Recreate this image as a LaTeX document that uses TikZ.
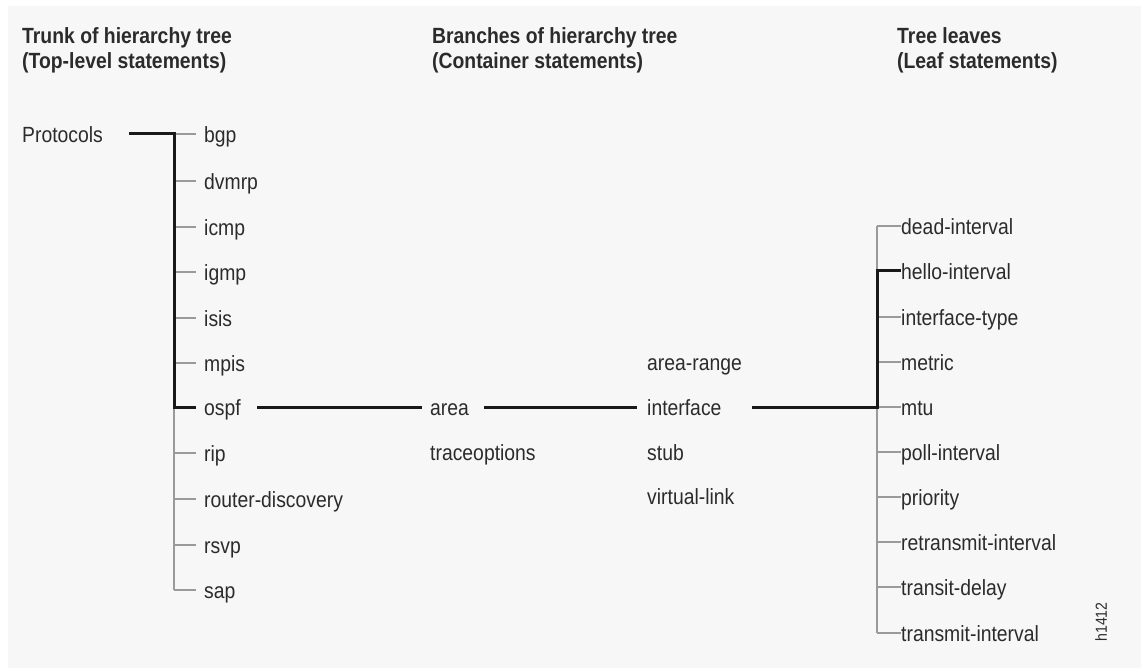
\documentclass[tikz,border=0pt]{standalone}
\usepackage{fontspec}
\setmainfont{Liberation Sans}[FakeStretch=0.88]
\definecolor{paper}{HTML}{F7F7F7}
\definecolor{ink}{HTML}{2B2B2B}
\definecolor{twiggray}{HTML}{9A9A9A}
\def\trunkx{174}
\def\leafx{877}
\begin{document}
\begin{tikzpicture}[x=1pt, y=-1pt,
    nodes = {font=\fontsize{22}{25}\selectfont, text=ink, inner sep=0pt},
    stmt/.style = {anchor=west, text height=21pt, text depth=4pt},
    header/.style = {anchor=north west, align=left,
      font=\fontsize{22}{25}\selectfont\bfseries},
    bough/.style = {draw=black!90, line width=3pt},
    twig/.style = {draw=twiggray, line width=1.5pt}]
    \useasboundingbox (0,0) rectangle (1141,668);
    \fill[paper] (8,6) rectangle (1141,668);
    % column headers
    \node[header] (trunk) at (22,27) {Trunk of hierarchy tree\\(Top-level statements)};
    \node[header] (branches) at (432,27) {Branches of hierarchy tree\\(Container statements)};
    \node[header] (leaves) at (897,27) {Tree leaves\\(Leaf statements)};
    % trunk
    \node[stmt] (protocols) at (22,134) {Protocols};
    \foreach \y/\name in {134/bgp, 181/dvmrp, 227/icmp, 272/igmp, 318/isis,
        363/mpis, 407/ospf, 453/rip, 499/router-discovery, 545/rsvp, 590/sap} {
      \coordinate (t-\name) at (\trunkx,\y);
      \node[stmt] (\name) at (204,\y) {\name};
      \draw[twig] (t-\name) -- ([xshift=-8pt]\name.west);
    }
    \draw[twig] (t-ospf) -- (t-sap);
    \draw[bough, shorten <=26pt] (protocols.east) -- (t-bgp) -- (t-ospf)
      -- ([xshift=-8pt]ospf.west);
    % branches
    \node[stmt] (area) at (430,407) {area};
    \node[stmt] (traceoptions) at (430,452) {traceoptions};
    \foreach \y/\name in {362/area-range, 407/interface, 452/stub, 496/virtual-link}
      \node[stmt] (\name) at (647,\y) {\name};
    \draw[bough, shorten <=16pt, shorten >=8pt] (ospf.east) -- (area.west);
    \draw[bough, shorten <=15pt, shorten >=10pt] (area.east) -- (interface.west);
    % leaves
    \foreach \y/\name in {226/dead-interval, 271/hello-interval, 317/interface-type,
        362/metric, 407/mtu, 452/poll-interval, 497/priority,
        542/retransmit-interval, 587/transit-delay, 633/transmit-interval} {
      \coordinate (l-\name) at (\leafx,\y);
      \node[stmt] (\name) at (901,\y) {\name};
      \draw[twig] (l-\name) -- (\name.west);
    }
    \draw[twig] (l-dead-interval) -- (l-transmit-interval);
    \draw[bough, shorten <=30pt] (interface.east) -- (l-mtu) -- (l-hello-interval)
      -- (hello-interval.west);
    \node[rotate=90, font=\fontsize{16}{16}\selectfont] (figid) at (1101,622) {h1412};
\end{tikzpicture}
\end{document}
